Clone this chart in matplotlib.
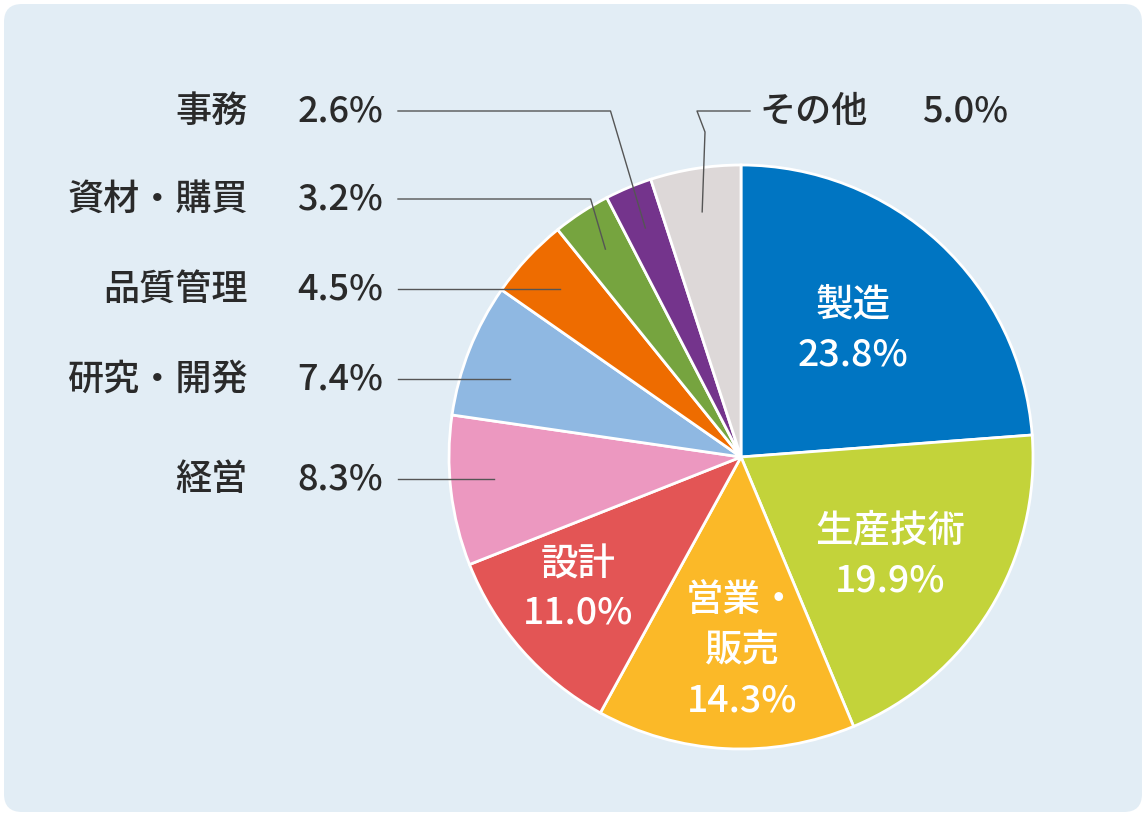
import matplotlib
matplotlib.use("Agg")
import matplotlib.pyplot as plt
from matplotlib.patches import FancyBboxPatch
import numpy as np

plt.rcParams['font.family'] = ['Noto Sans CJK JP', 'DejaVu Sans']

categories = ["製造", "生産技術", "営業・販売", "設計", "経営", "研究・開発", "品質管理", "資材・購買", "事務", "その他"]
values = [23.8, 19.9, 14.3, 11.0, 8.3, 7.4, 4.5, 3.2, 2.6, 5.0]
colors = ["#0075c2", "#c3d33a", "#fbb928", "#e35555", "#ec98c0", "#8fb8e2", "#ee6c00", "#76a43f", "#74348c", "#ddd8d8"]

W, H = 1146, 816
fig = plt.figure(figsize=(W/100, H/100), dpi=100)
ax = fig.add_axes([0, 0, 1, 1])
fig.patch.set_facecolor('white')
ax.add_patch(FancyBboxPatch((4, 4), W-8, H-8, boxstyle="round,pad=0,rounding_size=18",
                            fc="#e2edf5", ec="none"))

cx, cy, R = 741, H-457, 292
ax.pie(values, colors=colors, startangle=90, counterclock=False, center=(cx, cy), radius=R,
       wedgeprops=dict(edgecolor='white', linewidth=2), frame=True)
ax.set_xlim(0, W); ax.set_ylim(0, H); ax.set_aspect('equal'); ax.axis('off')

fs_in = 27
fs_out = 26
txtc = '#2a2a2a'
inside = {"製造": [(853, 305), (853, 355)], "生産技術": [(890, 530), (890, 580)],
          "営業・販売": [(742, 600), (742, 650), (742, 700)], "設計": [(578, 565), (578, 613)]}
texts = {"製造": ["製造"], "生産技術": ["生産技術"], "営業・販売": ["営業・", "販売"], "設計": ["設計"]}
for i, c in enumerate(categories):
    if c in inside:
        lines = texts[c] + [f"{values[i]:.1f}%"]
        for (x, y), t in zip(inside[c], lines):
            ax.text(x, H-y, t, color='white', fontsize=fs_in, ha='center', va='center', weight='medium')

cum = np.cumsum([0] + values[:-1])
left_y = {"事務": 112, "資材・購買": 200, "品質管理": 290, "研究・開発": 380, "経営": 480}
for i, c in enumerate(categories):
    mid = (cum[i] + values[i]/2) / 100 * 2*np.pi
    px = cx + 0.85*R*np.sin(mid); py = cy + 0.85*R*np.cos(mid)
    if c in left_y:
        ty = H - left_y[c]
        ax.text(248, ty, c, fontsize=fs_out, ha='right', va='center', color=txtc, weight='medium')
        ax.text(383, ty, f"{values[i]:.1f}%", fontsize=fs_out, ha='right', va='center', color=txtc, weight='medium')
        if abs(py - ty) < 20:
            ax.plot([398, px], [ty+1, ty+1], color='#555555', lw=1)
        else:
            ex = px - abs(py-ty)*0.3
            ax.plot([398, ex, px], [ty+1, ty+1, py], color='#555555', lw=1)
    elif c == "その他":
        ty = H - 112
        ax.text(760, ty, "その他", fontsize=fs_out, ha='left', va='center', color=txtc, weight='medium')
        ax.text(1008, ty, f"{values[i]:.1f}%", fontsize=fs_out, ha='right', va='center', color=txtc, weight='medium')
        ax.plot([750, 697, 705, px], [ty+1, ty+1, ty-20, py], color='#555555', lw=1)

fig.savefig("out.png", dpi=100)
